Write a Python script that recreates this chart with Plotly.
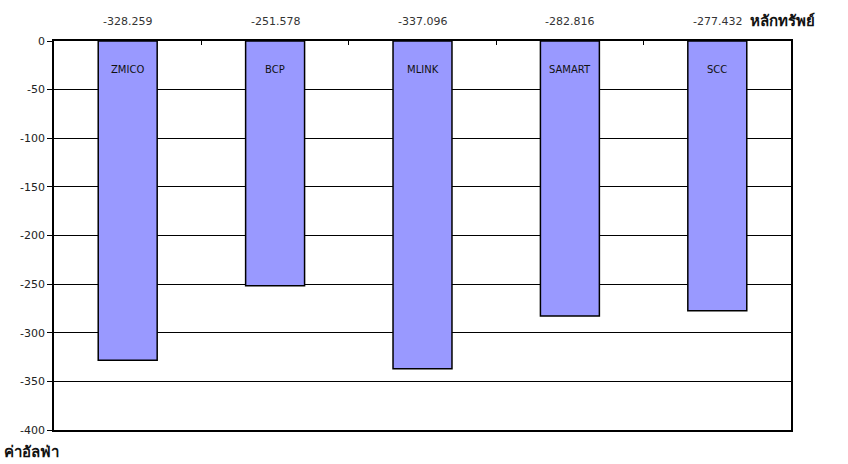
import plotly.graph_objects as go

categories = ["ZMICO", "BCP", "MLINK", "SAMART", "SCC"]
alpha_values = [-328.259, -251.578, -337.096, -282.816, -277.432]
value_labels = ["-328.259", "-251.578", "-337.096", "-282.816", "-277.432"]
y_tick_values = [0, -50, -100, -150, -200, -250, -300, -350, -400]
y_title = "ค่าอัลฟ่า"
x_title = "หลักทรัพย์"

W, H = 848, 464
ml, mr, mt, mb = 54, 57, 41, 34
pw = W - ml - mr
SANS = "DejaVu Sans, Liberation Sans, sans-serif"

fig = go.Figure()
fig.add_trace(go.Bar(
    x=categories,
    y=alpha_values,
    width=0.4,
    marker=dict(color="#9999FF", line=dict(color="#000000", width=1.5)),
    showlegend=False,
    hoverinfo="x+y",
))

annotations = []
for c, lab in zip(categories, value_labels):
    annotations.append(dict(
        x=c, xref="x", y=1, yref="paper", yshift=20,
        text=lab, showarrow=False,
        font=dict(family=SANS, size=11, color="#333333"),
        xanchor="center", yanchor="middle",
    ))
    annotations.append(dict(
        x=c, xref="x", y=0, yref="y", yshift=-28,
        text=c, showarrow=False,
        font=dict(family=SANS, size=10, color="#111111"),
        xanchor="center", yanchor="middle",
    ))
annotations.append(dict(
    x=(748 - ml) / pw, xref="paper", y=1, yref="paper", yshift=21,
    text="<b>" + x_title + "</b>", showarrow=False, xanchor="left", yanchor="middle",
    font=dict(family="Liberation Serif, serif", size=15, color="#111111"),
))
annotations.append(dict(
    x=(2 - ml) / pw, xref="paper", y=0, yref="paper", yshift=-22,
    text="<b>" + y_title + "</b>", showarrow=False, xanchor="left", yanchor="middle",
    font=dict(family="Liberation Serif, serif", size=15, color="#111111"),
))

fig.update_layout(
    width=W, height=H,
    margin=dict(l=ml, r=mr, t=mt, b=mb),
    paper_bgcolor="white", plot_bgcolor="white",
    annotations=annotations,
    xaxis=dict(
        type="category", side="top",
        showticklabels=False,
        ticks="inside", ticklen=4, tickcolor="#000000",
        tickson="boundaries",
        showline=True, linecolor="#000000", linewidth=1.5, mirror=True,
        showgrid=False, zeroline=False,
    ),
    yaxis=dict(
        range=[-400, 0],
        tickvals=y_tick_values,
        ticktext=[str(v) for v in y_tick_values],
        ticks="outside", ticklen=5, tickcolor="#000000",
        tickfont=dict(family=SANS, size=11, color="#222222"),
        showgrid=True, gridcolor="#000000", gridwidth=1,
        showline=True, linecolor="#000000", linewidth=1.5, mirror=True,
        zeroline=False,
    ),
)

fig.write_html("out.html")
